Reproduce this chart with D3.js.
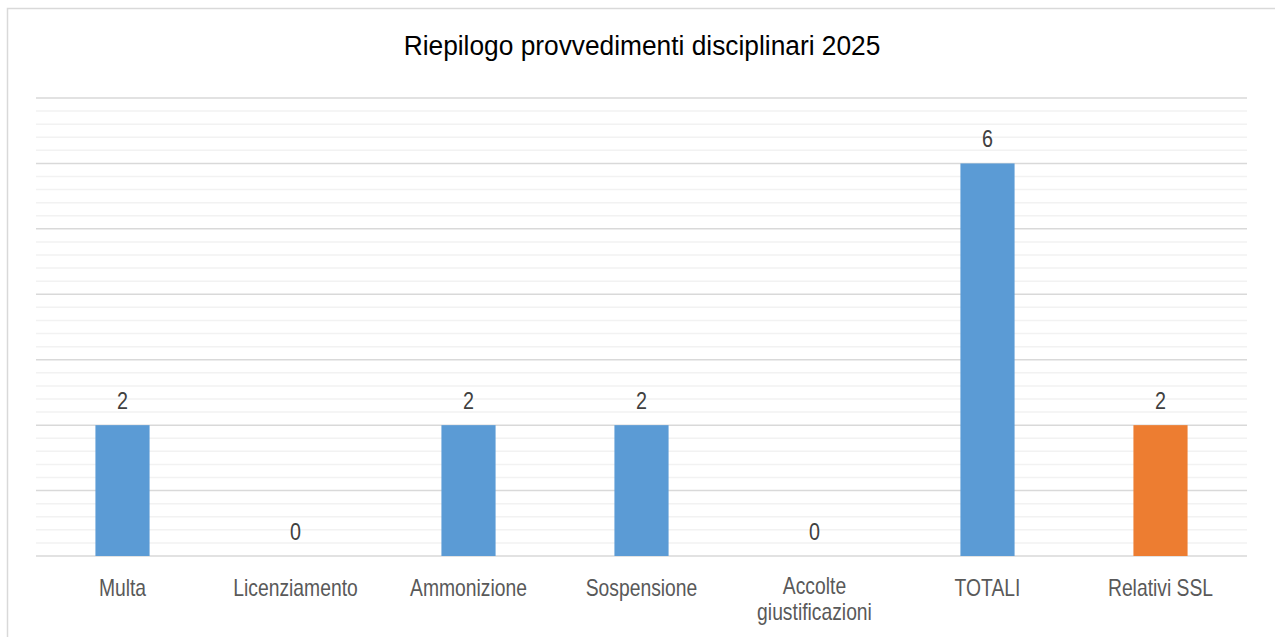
<!DOCTYPE html>
<html>
<head>
<meta charset="utf-8">
<script src="https://cdn.jsdelivr.net/npm/d3@7"></script>
<style>
  body { margin: 0; background: #fff; }
  svg { display: block; }
</style>
</head>
<body>
<div id="chart"></div>
<script>
// data
var categories = ["Multa", "Licenziamento", "Ammonizione", "Sospensione", "Accolte giustificazioni", "TOTALI", "Relativi SSL"];
var values = [2, 0, 2, 2, 0, 6, 2];
var barColors = ["#5b9bd5", "#5b9bd5", "#5b9bd5", "#5b9bd5", "#5b9bd5", "#5b9bd5", "#ed7d31"];
var title = "Riepilogo provvedimenti disciplinari 2025";

var W = 1275, H = 637;
var font = "'Liberation Sans', Arial, sans-serif";
var narrow = 0.84; // labels in the picture are condensed

var svg = d3.select("#chart").append("svg")
  .attr("width", W)
  .attr("height", H);

// chart frame
svg.append("rect")
  .attr("x", 7.5).attr("y", 8.5)
  .attr("width", W + 10).attr("height", H + 10)
  .style("fill", "#fff")
  .style("stroke", "#d9d9d9")
  .style("stroke-width", 1.5);

var plotLeft = 36, plotRight = 1247, plotTop = 98, plotBottom = 556;

var x = d3.scaleBand()
  .domain(categories)
  .range([plotLeft, plotRight])
  .paddingInner(0.687)
  .paddingOuter(0.3435);

var y = d3.scaleLinear()
  .domain([0, 7])
  .range([plotBottom, plotTop]);

// minor gridlines
var minorTicks = d3.range(0, 7.001, 0.2).filter(function(t) { return Math.abs(t - Math.round(t)) > 0.01; });
svg.append("g").selectAll("line")
  .data(minorTicks)
  .enter().append("line")
    .attr("x1", plotLeft).attr("x2", plotRight)
    .attr("y1", function(d) { return y(d); })
    .attr("y2", function(d) { return y(d); })
    .style("stroke", "#f2f2f2")
    .style("stroke-width", 1.5);

// major gridlines
svg.append("g").selectAll("line")
  .data(y.ticks(7))
  .enter().append("line")
    .attr("x1", plotLeft).attr("x2", plotRight)
    .attr("y1", function(d) { return y(d); })
    .attr("y2", function(d) { return y(d); })
    .style("stroke", "#d9d9d9")
    .style("stroke-width", 1.5);

// bars
svg.append("g").selectAll("rect")
  .data(values)
  .enter().append("rect")
    .attr("x", function(d, i) { return x(categories[i]); })
    .attr("y", function(d) { return y(d); })
    .attr("width", x.bandwidth())
    .attr("height", function(d) { return y(0) - y(d); })
    .style("fill", function(d, i) { return barColors[i]; });

// value labels
svg.append("g").selectAll("g")
  .data(values)
  .enter().append("g")
    .attr("transform", function(d, i) {
      return "translate(" + (x(categories[i]) + x.bandwidth() / 2) + "," + (y(d) - 16) + ") scale(" + narrow + ",1)";
    })
  .append("text")
    .attr("text-anchor", "middle")
    .style("font-family", font)
    .style("font-size", "23.5px")
    .style("fill", "#404040")
    .text(function(d) { return d; });

// category labels (wrap the long two-word one)
var catG = svg.append("g").selectAll("g")
  .data(categories)
  .enter().append("g")
    .attr("transform", function(d) {
      return "translate(" + (x(d) + x.bandwidth() / 2) + ",596) scale(" + narrow + ",1)";
    })
  .append("text")
    .attr("text-anchor", "middle")
    .style("font-family", font)
    .style("font-size", "23px")
    .style("fill", "#595959");

catG.each(function(d) {
  var t = d3.select(this);
  var lines = d.length > 16 ? d.split(" ") : [d];
  lines.forEach(function(line, i) {
    t.append("tspan")
      .attr("x", 0)
      .attr("dy", i === 0 ? (lines.length > 1 ? -2 : 0) : 26)
      .text(line);
  });
});

// title
svg.append("g")
  .attr("transform", "translate(642,55) scale(0.94,1)")
  .append("text")
    .attr("text-anchor", "middle")
    .style("font-family", font)
    .style("font-size", "28px")
    .style("fill", "#000")
    .text(title);
</script>
</body>
</html>
